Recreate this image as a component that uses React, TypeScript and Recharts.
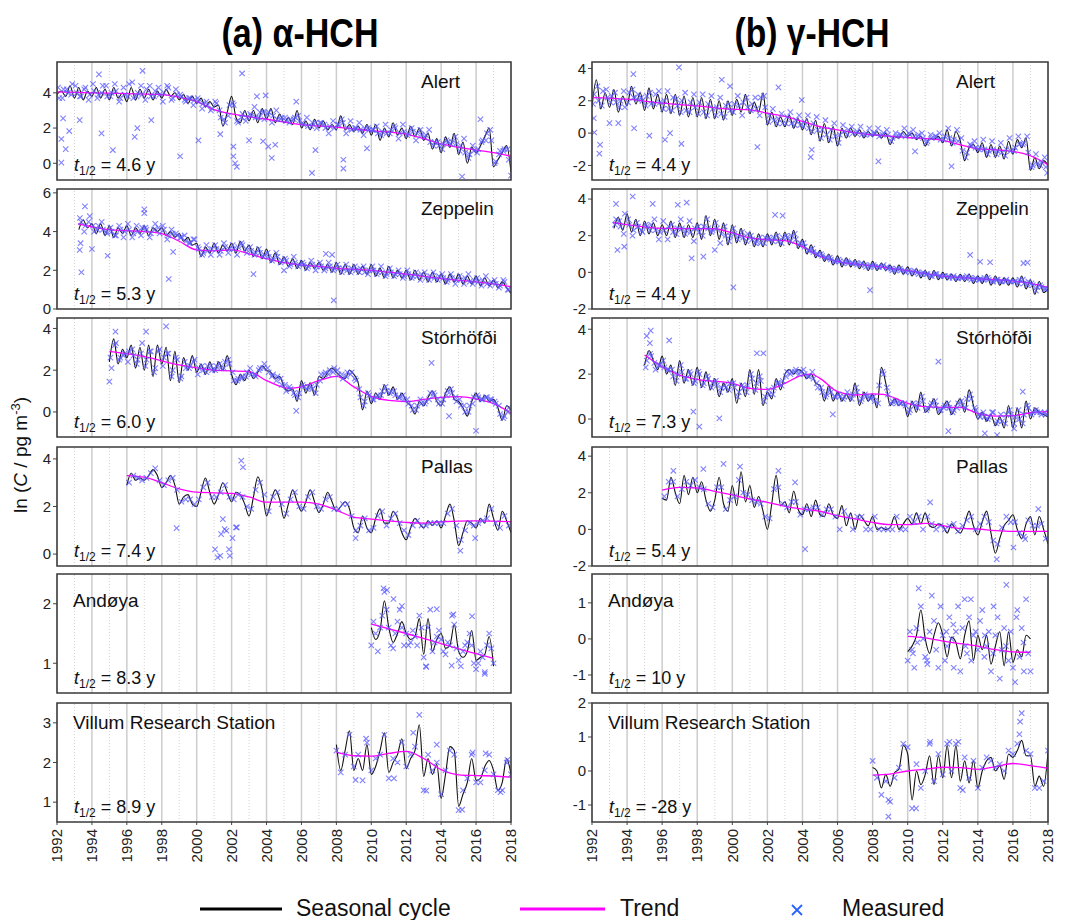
import React from "react";
import { ComposedChart, Line, Scatter, XAxis, YAxis, ReferenceLine } from "recharts";

// ---- axis values ----
const gridYears = [1992, 1993, 1994, 1995, 1996, 1997, 1998, 1999, 2000, 2001, 2002, 2003, 2004, 2005, 2006, 2007, 2008, 2009, 2010, 2011, 2012, 2013, 2014, 2015, 2016, 2017, 2018];
const labelYears = [1992, 1994, 1996, 1998, 2000, 2002, 2004, 2006, 2008, 2010, 2012, 2014, 2016, 2018];
const oddYears = [1993, 1995, 1997, 1999, 2001, 2003, 2005, 2007, 2009, 2011, 2013, 2015, 2017];

// ---- (a) alpha-HCH ----
// Alert
const alertA_season = [3.9, 4.1, 3.8, 4.4, 3.7, 4.3, 3.6, 4.1, 3.8, 4.3, 3.7, 4.2, 3.6, 4.3, 3.7, 4.0, 3.5, 4.3, 3.6, 4.2, 3.7, 4.2, 3.6, 4.1, 3.7, 4.2, 3.8, 4.0, 3.6, 3.9, 3.4, 3.8, 3.4, 3.7, 3.2, 3.5, 3.2, 3.3, 2.1, 2.9, 3.8, 2.6, 2.3, 3.0, 2.4, 3.0, 2.3, 3.1, 2.5, 3.1, 2.3, 2.8, 2.3, 2.6, 2.2, 3.0, 2.0, 2.4, 1.9, 2.5, 2.0, 2.4, 1.9, 2.2, 1.9, 2.7, 1.9, 2.2, 1.8, 2.1, 1.7, 2.2, 1.6, 2.2, 1.3, 2.0, 1.5, 2.3, 1.6, 2.0, 1.4, 2.1, 1.5, 2.0, 1.3, 1.7, 0.8, 1.4, 0.6, 1.5, 0.9, 1.7, 0.5, 1.2, 0.0, 0.9, 0.6, 1.0, 1.5, 2.0, -0.2, 0.2, 0.6, 1.0, -0.5];
const alertA_trend = [[1992, 4.05], [1994, 4.0], [1996, 3.95], [1998, 3.9], [1999, 3.75], [2000, 3.5], [2001, 3.05], [2002, 2.8], [2004, 2.5], [2006, 2.2], [2008, 2.05], [2010, 1.85], [2012, 1.65], [2013, 1.4], [2014, 1.1], [2015, 0.9], [2016, 0.75], [2017, 0.6], [2018, 0.4]];
const alertA_meas = [3.7, 4.2, 4.0, 4.5, 4.0, 3.8, 4.3, 3.9, 4.1, 3.9, 4.4, 3.8, 4.0, 4.1, 3.7, 3.9, 4.5, 3.7, 4.0, 3.9, 4.2, 3.8, 4.1, 3.9, 4.0, 4.3, 3.7, 3.9, 3.8, 3.5, 3.7, 3.6, 3.5, 3.4, 3.3, 3.1, 3.4, 2.6, 2.3, 3.3, 3.3, 2.3, 2.8, 2.6, 2.7, 2.6, 2.9, 2.5, 2.9, 2.7, 2.5, 2.6, 2.4, 2.5, 2.6, 2.4, 2.2, 2.1, 2.3, 2.0, 2.3, 2.0, 2.1, 2.0, 2.2, 2.3, 2.0, 1.9, 2.0, 1.9, 2.0, 1.9, 1.9, 1.7, 1.8, 1.7, 1.9, 2.0, 1.7, 1.8, 1.7, 1.8, 1.7, 1.6, 1.6, 1.2, 1.2, 1.0, 1.1, 1.2, 1.2, 1.1, 1.0, 0.6, 0.5, 0.7, 0.8, 1.3, 1.7, 1.3, 0.1, 0.7, 0.8, 0.2];
const alertA_meas2 = [4.3, 3.7, 4.2, 3.9, 4.4, 3.8, 4.2, 3.6, 4.5, 3.7, 4.0, 4.4, 3.8, 4.5, 3.5, 4.3, 3.8, 4.6, 3.8, 4.4, 3.6, 4.4, 3.8, 4.3, 3.5, 4.4, 3.6, 4.2, 3.9, 3.6, 3.7, 3.3, 3.7, 3.1, 3.5, 3.0, 3.5, 3.0, 2.5, 2.7, 3.4, 2.4, 2.6, 2.4, 2.8, 3.2, 2.6, 2.9, 2.8, 2.3, 3.0, 2.5, 2.6, 2.3, 2.5, 2.7, 2.3, 2.6, 2.1, 2.3, 2.3, 2.2, 1.7, 2.4, 2.2, 2.5, 1.7, 2.4, 2.0, 2.3, 1.6, 2.0, 1.9, 2.1, 1.6, 2.2, 1.7, 2.1, 1.4, 2.2, 1.6, 2.0, 1.3, 1.9, 1.5, 1.9, 1.0, 1.2, 0.8, 1.3, 1.1, 1.5, 0.7, 1.4, 0.3, 1.0, 0.6, 1.2, 1.3, 1.9, 0.0, 0.5, 0.7, 0.8];
const alertA_out = [[1992.25, 1.38], [1992.25, 0.04], [1992.35, 2.55], [1992.5, 0.8], [1992.7, 1.83], [1993.3, 2.45], [1994.4, 5.05], [1994.55, 1.7], [1995.2, 0.75], [1996.45, 1.5], [1996.6, 2.0], [1996.9, 5.25], [1997.4, 2.45], [1999.05, 0.4], [2000.1, 1.3], [2001.35, 1.65], [2002.1, 0.95], [2002.1, 0.4], [2002.2, 0.0], [2002.3, -0.2], [2002.6, 5.1], [2003.0, 1.3], [2003.45, 3.8], [2003.95, 3.85], [2003.8, 1.25], [2004.1, 0.95], [2004.3, 0.3], [2004.5, 1.05], [2005.7, 3.5], [2006.8, 0.75], [2008.4, 0.2], [2008.4, -0.3], [2006.6, -0.55], [2009.75, 0.85], [2015.2, -0.75], [2018.0, -0.7], [2016.25, 2.5]];

// Zeppelin
const zeppA_season = [4.1, 4.6, 4.2, 4.4, 3.9, 4.4, 3.8, 4.3, 3.7, 4.2, 3.9, 4.3, 3.8, 4.2, 3.9, 4.3, 3.8, 4.2, 4.0, 4.2, 3.8, 4.0, 3.7, 3.9, 3.5, 3.7, 3.3, 3.4, 2.7, 3.2, 2.9, 3.4, 2.9, 3.3, 3.0, 3.4, 2.9, 3.5, 3.0, 3.3, 2.7, 3.2, 2.6, 3.1, 2.4, 2.9, 2.3, 2.7, 2.2, 2.6, 2.1, 2.5, 2.0, 2.4, 2.1, 2.4, 2.0, 2.3, 1.9, 2.4, 1.8, 2.3, 1.8, 2.3, 1.8, 2.2, 1.8, 2.3, 1.7, 2.1, 1.6, 2.2, 1.6, 2.0, 1.6, 2.0, 1.5, 2.0, 1.5, 1.9, 1.4, 1.9, 1.4, 1.8, 1.3, 1.8, 1.4, 1.8, 1.3, 1.7, 1.3, 1.7, 1.2, 1.6, 1.2, 1.5, 1.1, 1.4, 1.1, 0.8];
const zeppA_trend = [[1993.2, 4.4], [1994, 4.25], [1995, 4.1], [1996, 4.05], [1997, 4.0], [1998, 3.9], [1999, 3.5], [2000, 3.05], [2001, 3.0], [2002, 3.05], [2003, 2.85], [2004, 2.6], [2005, 2.4], [2006, 2.27], [2007, 2.2], [2008, 2.1], [2010, 2.0], [2012, 1.8], [2014, 1.57], [2016, 1.4], [2017, 1.3], [2018, 1.15]];
const zeppA_meas = [4.5, 4.3, 4.8, 4.0, 4.3, 4.1, 3.9, 4.0, 3.8, 4.1, 4.0, 4.1, 3.9, 4.0, 4.2, 4.1, 3.9, 4.4, 3.9, 4.1, 3.8, 3.9, 3.8, 3.7, 3.5, 3.4, 3.6, 3.1, 2.9, 3.0, 3.1, 3.1, 3.0, 3.2, 3.1, 3.1, 3.2, 3.3, 2.9, 3.0, 2.9, 2.9, 2.8, 2.7, 2.6, 2.7, 2.5, 2.5, 2.3, 2.4, 2.3, 2.3, 2.2, 2.3, 2.2, 2.2, 2.1, 2.2, 2.1, 2.1, 2.1, 2.0, 2.1, 2.0, 2.1, 1.9, 2.0, 2.0, 1.9, 1.9, 1.8, 1.9, 1.8, 1.8, 1.7, 1.8, 1.7, 1.7, 1.8, 1.6, 1.7, 1.6, 1.7, 1.6, 1.5, 1.6, 1.5, 1.5, 1.6, 1.4, 1.5, 1.4, 1.5, 1.3, 1.4, 1.3, 1.2, 1.4, 1.0];
const zeppA_meas2 = [4.7, 4.0, 4.5, 4.3, 4.1, 4.5, 4.0, 4.2, 3.8, 4.3, 3.7, 4.4, 3.7, 4.3, 3.8, 4.2, 3.7, 4.1, 4.2, 4.3, 3.6, 4.1, 3.9, 3.7, 3.8, 3.4, 3.6, 3.2, 2.8, 3.3, 2.8, 3.3, 2.8, 3.4, 2.9, 3.3, 2.8, 3.4, 3.1, 3.2, 2.8, 3.1, 2.7, 2.9, 2.5, 2.9, 2.4, 2.6, 2.2, 2.7, 2.2, 2.4, 2.1, 2.5, 2.0, 2.4, 2.0, 2.4, 2.0, 2.3, 1.9, 2.3, 1.9, 2.2, 1.9, 2.2, 1.8, 2.2, 1.8, 2.2, 1.7, 2.1, 1.7, 2.0, 1.6, 2.0, 1.6, 1.9, 1.5, 1.9, 1.5, 1.9, 1.5, 1.8, 1.4, 1.8, 1.3, 1.7, 1.3, 1.8, 1.3, 1.6, 1.2, 1.7, 1.2, 1.5, 1.1, 1.5, 1.0];
const zeppA_out = [[1993.3, 3.05], [1993.35, 3.4], [1993.4, 1.9], [1993.6, 5.3], [1994.0, 3.1], [1994.9, 2.75], [1997.0, 5.15], [1997.0, 4.95], [1998.4, 1.55], [1998.65, 2.95], [2003.25, 1.8], [2005.0, 2.0], [2007.85, 0.45], [2007.4, 2.85], [2007.75, 2.8]];

// Storhofdi
const storA_season = [2.4, 3.5, 2.3, 3.0, 2.6, 3.2, 2.1, 3.1, 2.0, 3.2, 1.7, 3.2, 2.3, 3.1, 1.5, 2.9, 1.4, 2.6, 2.0, 2.7, 1.9, 2.3, 1.8, 2.4, 1.9, 2.4, 2.0, 2.7, 1.8, 1.3, 1.8, 1.5, 2.0, 1.6, 1.9, 2.2, 2.0, 1.9, 1.6, 1.7, 1.2, 1.0, 1.1, 0.5, 1.5, 0.9, 1.4, 0.8, 1.7, 1.6, 1.9, 2.1, 1.9, 1.7, 1.6, 2.0, 1.8, 1.4, 0.1, 1.0, 0.4, 0.9, 0.6, 1.3, 0.8, 1.2, 0.6, 0.9, 0.5, 0.3, -0.1, 0.5, 0.3, 0.7, 1.0, 0.5, 0.3, 0.9, 1.2, 0.6, 0.5, 0.2, -0.2, 0.5, 0.9, 0.5, 0.8, 0.5, 0.6, 0.2, -0.4, 0.3, 0.1];
const storA_trend = [[1995, 2.9], [1997, 2.65], [1999, 2.25], [2001, 2.0], [2003, 1.93], [2004, 1.5], [2005.3, 1.13], [2006, 1.2], [2007, 1.5], [2008, 1.7], [2009, 1.2], [2010, 0.75], [2011, 0.55], [2012, 0.5], [2013, 0.6], [2014, 0.7], [2015, 0.73], [2016, 0.62], [2017, 0.4], [2018, -0.05]];
const storA_meas = [2.1, 3.3, 2.6, 2.8, 2.9, 2.7, 2.5, 3.3, 2.5, 2.9, 2.1, 3.0, 2.6, 2.8, 2.0, 2.5, 1.7, 2.1, 2.2, 2.5, 2.1, 2.0, 2.2, 2.0, 2.2, 2.1, 2.4, 2.3, 1.5, 1.6, 1.7, 1.9, 1.8, 1.7, 2.1, 2.3, 1.9, 1.8, 1.7, 1.3, 1.0, 1.1, 0.8, 0.9, 1.2, 1.2, 1.1, 1.3, 1.8, 1.9, 2.0, 2.1, 1.8, 1.6, 1.9, 1.9, 1.5, 0.7, 0.5, 0.8, 0.6, 0.8, 1.0, 1.0, 1.0, 0.8, 0.7, 0.6, 0.4, 0.1, 0.3, 0.4, 0.5, 0.9, 0.8, 0.4, 0.6, 1.0, 0.9, 0.5, 0.3, 0.0, 0.3, 0.7, 0.7, 0.6, 0.7, 0.6, 0.4, -0.1, -0.2, 0.2];
const storA_meas2 = [2.6, 3.2, 2.5, 2.7, 2.4, 3.0, 2.3, 2.8, 2.2, 2.9, 1.9, 2.9, 2.2, 2.8, 1.7, 2.6, 1.6, 2.4, 2.1, 2.4, 1.8, 2.2, 1.9, 2.2, 2.0, 2.3, 2.1, 2.5, 1.9, 1.5, 1.6, 1.7, 2.1, 1.8, 2.0, 2.1, 2.1, 1.7, 1.5, 1.6, 1.3, 1.2, 0.9, 0.7, 1.3, 1.1, 1.2, 0.9, 1.5, 1.8, 1.8, 1.9, 2.0, 1.8, 1.7, 1.8, 1.6, 1.1, 0.3, 0.9, 0.6, 0.7, 0.8, 1.2, 0.9, 1.0, 0.7, 0.8, 0.6, 0.3, 0.1, 0.6, 0.4, 0.6, 0.9, 0.6, 0.4, 0.8, 1.1, 0.7, 0.6, 0.3, 0.0, 0.4, 0.8, 0.6, 0.7, 0.6, 0.5, 0.3, -0.3, 0.0];
const storA_out = [[1995.0, 1.45], [1995.35, 3.85], [1997.1, 3.85], [1998.25, 4.1], [2005.7, 0.05], [2013.45, 2.35], [2014.45, -0.2], [2016.0, -0.9]];

// Pallas
const pallA_season = [2.9, 3.4, 3.1, 3.2, 3.1, 3.3, 3.55, 3.3, 2.8, 3.0, 3.3, 2.9, 2.1, 2.4, 2.5, 2.1, 2.0, 2.6, 3.2, 2.6, 2.1, 2.5, 3.0, 2.6, 2.2, 2.6, 2.5, 2.1, 1.6, 2.4, 3.25, 2.7, 1.6, 2.2, 2.7, 2.3, 1.5, 2.1, 2.7, 2.2, 1.8, 2.2, 2.7, 2.2, 1.75, 2.1, 2.6, 2.2, 1.8, 2.0, 2.2, 1.9, 1.1, 0.9, 1.6, 1.1, 0.9, 1.5, 1.9, 1.3, 1.3, 1.8, 1.5, 0.9, 0.6, 1.1, 1.5, 1.3, 1.1, 1.4, 1.2, 1.4, 1.1, 1.6, 2.1, 1.4, 0.35, 0.9, 1.4, 1.3, 1.1, 1.5, 1.3, 2.1, 1.5, 1.0, 1.8, 1.4, 0.9];
const pallA_trend = [[1996, 3.3], [1997, 3.23], [1998, 3.0], [1999, 2.74], [2000, 2.6], [2002, 2.55], [2003, 2.4], [2004, 2.18], [2006, 2.18], [2007, 2.1], [2008, 1.85], [2009, 1.55], [2010, 1.47], [2012, 1.33], [2013, 1.3], [2014, 1.36], [2016, 1.4], [2018, 1.36]];
const pallA_meas = [3.0, 3.3, 3.2, 3.1, 3.2, 3.4, 3.6, 3.1, 2.9, 3.1, 3.2, 2.7, 2.2, 2.3, 2.3, 2.1, 2.3, 2.8, 3.0, 2.4, 2.4, 2.6, 2.9, 2.4, 2.3, 2.5, 2.4, 2.0, 1.9, 2.7, 3.0, 2.5, 1.8, 2.4, 2.6, 2.1, 1.7, 2.3, 2.6, 2.0, 1.9, 2.4, 2.6, 2.0, 1.9, 2.3, 2.4, 1.9, 1.9, 2.1, 2.1, 1.6, 1.0, 1.2, 1.5, 1.0, 1.1, 1.6, 1.8, 1.2, 1.5, 1.7, 1.3, 1.0, 0.8, 1.2, 1.4, 1.2, 1.2, 1.3, 1.3, 1.3, 1.3, 1.7, 1.9, 1.2, 0.6, 1.0, 1.3, 1.2, 1.3, 1.4, 1.5, 1.9, 1.3, 1.1, 1.6, 1.2];
const pallA_out = [[2001.05, 0.2], [2001.2, -0.14], [2001.35, -0.07], [2001.4, 0.84], [2001.5, 1.47], [2001.6, 1.05], [2001.7, 0.98], [2001.85, 0.2], [2001.9, -0.07], [2002.05, 0.67], [2002.25, 1.12], [2002.3, 1.12], [2002.55, 3.93], [2002.65, 3.65], [1998.85, 1.09], [2015.1, 0.14], [2015.95, 0.67], [2009.1, 0.67]];

// Andoya
const andA_season = [1.6, 1.4, 1.55, 2.05, 1.6, 1.35, 1.5, 1.7, 1.5, 1.4, 1.45, 1.75, 1.15, 1.75, 1.2, 1.4, 1.5, 1.25, 1.3, 1.65, 1.2, 1.1, 1.2, 1.55, 1.05, 1.1, 1.15, 1.45, 0.95];
const andA_trend = [[2010, 1.66], [2012, 1.5], [2014, 1.33], [2016, 1.16], [2017, 1.08]];
const andA_meas = [1.3, 1.7, 1.5, 1.2, 1.6, 1.8, 2.2, 1.9, 1.6, 1.3, 1.25, 1.5, 1.7, 1.9, 1.6, 1.3, 1.5, 1.3, 1.35, 1.55, 1.45, 1.3, 1.8, 1.6, 1.1, 0.95, 1.6, 1.9, 1.2, 1.35, 1.45, 1.55, 1.4, 1.2, 1.15, 1.35, 1.3, 1.8, 1.65, 1.25, 1.05, 0.95, 1.2, 1.3, 1.35, 1.5, 1.3, 1.0, 0.9, 1.0, 1.2, 1.1, 0.85, 1.3, 1.5, 1.25, 1.0];
const andA_out = [[2010.7, 2.26], [2010.9, 2.23], [2011.27, 2.08], [2011.75, 1.96], [2013.75, 1.91], [2014.7, 1.82], [2015.77, 1.79], [2013.15, 0.94], [2014.6, 0.96], [2016.5, 0.82]];

// Villum
const vilA_season = [2.45, 1.8, 2.3, 2.8, 1.8, 2.1, 1.8, 2.45, 1.7, 1.9, 2.3, 2.75, 1.75, 2.0, 2.2, 2.6, 1.85, 2.1, 2.3, 2.95, 1.65, 2.1, 1.7, 1.95, 1.1, 1.7, 2.4, 2.3, 0.9, 1.2, 1.5, 2.1, 1.55, 1.6, 1.9, 2.05, 1.8, 1.3, 1.5, 2.1, 1.7];
const vilA_trend = [[2008, 2.26], [2009, 2.17], [2010, 2.16], [2011, 2.23], [2012, 2.28], [2013, 2.1], [2014, 1.82], [2015, 1.69], [2016, 1.67], [2017, 1.66], [2018, 1.63]];
const vilA_meas = [2.3, 1.75, 2.2, 2.7, 1.9, 2.2, 1.55, 2.5, 1.8, 2.1, 2.2, 2.7, 1.6, 2.1, 2.0, 2.5, 1.9, 2.2, 2.4, 3.2, 1.3, 2.2, 1.8, 2.0, 1.2, 1.8, 2.3, 2.2, 0.8, 1.3, 1.6, 2.2, 1.5, 1.5, 1.8, 2.2, 1.7, 1.3, 1.3, 2.0, 1.7];
const vilA_out = [[2009.1, 1.56], [2009.7, 2.6], [2011.3, 1.6], [2012.4, 2.75], [2013.15, 1.29], [2013.75, 2.45], [2015.2, 0.81], [2015.8, 2.25], [2016.55, 2.23], [2017.4, 1.25], [2017.8, 2.07]];

// ---- (b) gamma-HCH ----
// Alert
const alertG_season = [1.6, 3.3, 1.5, 2.5, 1.6, 2.7, 1.3, 2.3, 1.7, 2.9, 1.8, 2.5, 1.4, 2.8, 1.5, 2.4, 1.3, 2.4, 1.2, 2.4, 1.1, 2.3, 1.0, 2.2, 1.0, 2.2, 0.9, 2.1, 0.9, 2.0, 0.8, 2.0, 1.1, 2.1, 1.3, 2.4, 1.2, 1.9, 1.3, 2.5, 0.5, 1.3, 0.4, 1.0, 0.4, 1.1, 0.3, 0.9, 0.2, 0.9, -0.1, 0.8, -0.5, 0.6, -0.6, 0.4, -0.8, 0.3, -0.3, 0.3, -0.2, 0.2, -0.3, 0.1, -0.2, 0.1, -0.3, 0.0, -0.7, -0.2, -0.3, 0.1, -0.2, 0.0, -0.4, -0.2, -0.8, -0.3, -0.4, -0.2, -0.6, 0.2, -0.8, 0.1, -0.5, -1.7, -0.9, -0.7, -1.2, -0.6, -1.5, -0.7, -1.5, -0.8, -1.6, -0.5, -1.3, -0.4, -0.9, -0.3, -2.3, -1.5, -2.2, -1.7, -2.0];
const alertG_trend = [[1992, 2.2], [1994, 2.1], [1996, 1.85], [1998, 1.68], [2000, 1.48], [2001, 1.44], [2002, 1.23], [2003, 1.03], [2004, 0.72], [2005, 0.4], [2006, 0.2], [2007, 0.02], [2008, -0.1], [2010, -0.27], [2012, -0.45], [2013, -0.72], [2014, -0.97], [2015, -1.03], [2016, -1.13], [2017, -1.4], [2018, -1.95]];
const alertG_meas = [2.4, 2.0, 2.6, 2.2, 2.3, 1.9, 2.0, 1.6, 2.5, 2.2, 2.4, 2.0, 2.3, 1.8, 2.4, 1.9, 2.0, 1.5, 2.2, 1.7, 2.0, 1.4, 1.9, 1.6, 1.9, 1.3, 1.8, 1.5, 1.6, 1.2, 1.7, 1.4, 1.8, 1.7, 1.9, 1.6, 1.8, 1.5, 2.2, 1.6, 1.1, 0.8, 0.9, 0.6, 1.0, 0.6, 0.8, 0.5, 0.7, 0.3, 0.6, 0.2, 0.2, -0.1, 0.2, -0.2, -0.1, 0.1, 0.2, 0.0, 0.1, -0.1, 0.0, -0.1, 0.0, -0.2, 0.0, -0.1, -0.3, -0.2, -0.1, -0.2, -0.1, -0.2, -0.1, -0.3, -0.5, -0.3, -0.2, -0.4, -0.2, -0.3, -0.4, -0.5, -1.1, -1.2, -0.8, -0.9, -0.9, -1.0, -1.1, -1.0, -1.1, -1.2, -1.0, -1.1, -0.9, -0.7, -0.6, -1.2, -2.0, -1.9, -1.8, -2.1];
const alertG_meas2 = [1.8, 2.9, 1.7, 2.7, 1.9, 2.5, 1.6, 2.6, 1.9, 2.7, 2.1, 2.2, 1.7, 2.5, 1.8, 2.6, 1.5, 2.6, 1.4, 2.1, 1.3, 2.5, 1.3, 2.4, 1.2, 2.4, 1.1, 2.3, 1.1, 2.2, 1.0, 1.8, 1.3, 2.3, 1.1, 2.2, 1.4, 2.2, 1.1, 2.3, 0.7, 1.5, 0.6, 1.2, 0.6, 1.3, 0.5, 1.1, 0.4, 1.1, 0.1, 1.0, -0.3, 0.8, -0.4, 0.6, -0.6, 0.5, -0.1, 0.4, 0.0, 0.4, -0.1, 0.3, 0.0, 0.3, -0.1, 0.2, -0.5, 0.0, -0.1, 0.3, 0.0, 0.2, -0.2, 0.0, -0.6, -0.1, -0.2, 0.0, -0.4, 0.3, -0.6, 0.2, -0.3, -1.5, -0.7, -0.5, -1.0, -0.4, -1.3, -0.5, -1.3, -0.6, -1.4, -0.3, -1.1, -0.2, -0.7, -0.2, -2.1, -1.3, -2.0, -1.5];
const alertG_out = [[1992.1, 0.92], [1992.13, 0.04], [1992.46, -0.72], [1992.42, -1.27], [1993.0, 0.62], [1993.5, 0.62], [1994.36, 3.65], [1994.4, 0.3], [1995.27, -0.16], [1996.16, -0.41], [1996.45, 0.0], [1996.96, 4.07], [1997.1, -0.66], [1999.4, 3.3], [1999.87, 2.9], [2001.43, -0.86], [2002.63, 2.83], [2003.96, 2.05], [2004.47, -1.48], [2004.53, -1.03], [2008.33, -1.75], [2010.42, -1.13], [2012.5, -2.05], [2017.95, -2.46]];

// Zeppelin
const zeppG_season = [2.4, 3.0, 2.3, 3.2, 2.2, 2.9, 2.0, 2.8, 2.1, 2.7, 2.0, 2.6, 2.0, 2.8, 1.9, 2.7, 1.9, 2.6, 1.9, 2.7, 1.8, 3.1, 2.0, 2.9, 1.8, 2.7, 1.5, 2.6, 1.6, 2.4, 1.5, 2.2, 1.4, 2.1, 1.4, 2.1, 1.5, 2.2, 1.4, 2.2, 1.5, 2.3, 1.3, 1.8, 1.0, 1.5, 0.8, 1.2, 0.6, 1.0, 0.4, 0.9, 0.3, 0.8, 0.3, 0.7, 0.2, 0.6, 0.1, 0.6, 0.1, 0.5, 0.1, 0.4, -0.1, 0.4, -0.1, 0.3, -0.2, 0.2, -0.3, 0.1, -0.4, 0.1, -0.4, 0.0, -0.4, -0.1, -0.5, -0.1, -0.5, -0.1, -0.6, -0.2, -0.6, -0.1, -0.7, -0.2, -0.7, -0.3, -0.7, -0.3, -0.8, -0.2, -0.9, -0.4, -1.2, -0.5, -1.1, -0.9];
const zeppG_trend = [[1993.2, 2.72], [1994, 2.6], [1996, 2.4], [1999, 2.38], [2000, 2.15], [2001, 1.88], [2002, 1.78], [2003, 1.73], [2004, 1.4], [2005, 0.88], [2006, 0.6], [2008, 0.35], [2010, 0.09], [2012, -0.2], [2014, -0.35], [2016, -0.47], [2017, -0.6], [2018, -0.82]];
const zeppG_meas = [2.9, 2.5, 3.2, 2.6, 2.3, 2.5, 2.2, 2.5, 2.6, 2.3, 2.2, 2.3, 2.5, 2.2, 2.4, 2.4, 2.3, 2.2, 2.4, 2.2, 2.5, 2.4, 2.3, 2.4, 2.1, 2.0, 2.0, 2.1, 2.0, 1.9, 2.1, 1.8, 1.7, 1.6, 1.9, 1.8, 1.9, 1.7, 1.9, 1.9, 2.0, 1.8, 1.6, 1.4, 1.2, 1.1, 1.0, 0.9, 0.8, 0.7, 0.6, 0.6, 0.6, 0.5, 0.5, 0.4, 0.5, 0.3, 0.4, 0.3, 0.3, 0.4, 0.2, 0.1, 0.2, 0.1, 0.0, 0.0, 0.1, -0.1, 0.0, -0.1, -0.2, -0.1, -0.2, -0.2, -0.3, -0.2, -0.3, -0.3, -0.2, -0.4, -0.3, -0.4, -0.3, -0.4, -0.5, -0.4, -0.5, -0.4, -0.5, -0.5, -0.4, -0.6, -0.5, -0.7, -0.8, -0.8, -0.9];
const zeppG_meas2 = [2.6, 2.8, 2.1, 2.9, 2.0, 2.7, 2.3, 2.6, 2.3, 2.9, 1.8, 2.8, 1.8, 2.6, 2.1, 2.9, 2.1, 2.8, 1.7, 2.5, 2.0, 2.9, 2.2, 2.7, 1.6, 2.5, 1.7, 2.4, 1.8, 2.2, 1.7, 2.0, 1.6, 1.9, 1.6, 1.9, 1.7, 2.0, 1.6, 2.0, 1.7, 2.1, 1.5, 1.6, 1.2, 1.3, 1.0, 1.0, 0.8, 0.8, 0.6, 0.7, 0.5, 0.6, 0.5, 0.5, 0.4, 0.4, 0.3, 0.4, 0.3, 0.3, 0.3, 0.2, 0.1, 0.2, 0.1, 0.1, 0.0, 0.0, -0.1, -0.1, -0.2, -0.1, -0.2, -0.2, -0.2, -0.3, -0.3, -0.3, -0.3, -0.3, -0.4, -0.4, -0.4, -0.3, -0.5, -0.4, -0.5, -0.5, -0.5, -0.5, -0.6, -0.4, -0.7, -0.6, -1.0, -0.7, -0.9];
const zeppG_out = [[1993.37, 3.74], [1993.45, 1.22], [1993.84, 1.4], [1994.32, 4.14], [1995.46, 3.74], [1996.89, 3.69], [1997.4, 3.81], [1997.68, 0.77], [1998.35, 0.86], [1999.0, 1.22], [2000.06, -0.82], [2002.44, 3.14], [2002.87, 3.1], [2007.85, -0.97], [2013.56, 0.95], [2014.13, 0.58], [2014.7, 0.55], [2016.6, 0.5], [2016.83, 0.53]];

// Storhofdi
const storG_season = [2.4, 3.05, 2.6, 2.2, 2.8, 2.0, 2.4, 1.5, 2.6, 1.6, 2.2, 1.5, 2.3, 1.4, 2.1, 1.3, 1.8, 1.0, 1.6, 1.2, 1.8, 0.7, 1.6, 1.0, 2.2, 1.1, 2.2, 0.6, 1.2, 0.9, 1.8, 1.3, 2.0, 2.2, 2.0, 2.2, 2.1, 1.8, 2.0, 1.6, 1.5, 0.8, 1.5, 0.8, 1.2, 0.8, 1.1, 0.8, 1.6, 0.6, 1.2, 0.8, 1.1, 0.5, 2.3, 1.6, 0.6, 0.9, 0.6, 0.8, 0.1, 0.8, 0.3, 1.2, 0.3, 0.5, 0.9, 0.2, 0.5, 0.8, 0.2, 0.6, 0.9, 0.3, 1.3, 0.6, 0.0, 0.3, -0.1, 0.2, -0.3, 0.1, -0.4, 0.6, -0.4, 0.5, -0.4, 0.8, 0.0, 0.5, 0.3, 0.2, 0.1];
const storG_trend = [[1995, 2.85], [1996, 2.33], [1997, 1.96], [1998, 1.77], [2000, 1.59], [2001, 1.37], [2002, 1.32], [2003, 1.59], [2004, 1.96], [2004.5, 2.0], [2005, 1.81], [2006, 1.22], [2007, 1.07], [2008, 1.12], [2008.6, 1.1], [2010, 0.7], [2011, 0.55], [2012, 0.52], [2013, 0.52], [2014, 0.25], [2015, 0.13], [2016, 0.15], [2017, 0.28], [2018, 0.33]];
const storG_meas = [2.6, 2.8, 2.2, 2.4, 2.3, 2.2, 1.9, 2.0, 2.1, 1.8, 2.0, 1.7, 2.0, 1.6, 1.8, 1.6, 1.5, 1.4, 1.4, 1.6, 1.4, 1.2, 1.4, 1.5, 1.8, 1.6, 1.7, 1.0, 1.1, 1.4, 1.6, 1.7, 2.1, 2.1, 2.2, 2.1, 2.0, 1.9, 1.8, 1.4, 1.2, 1.1, 1.2, 1.0, 1.0, 1.0, 1.0, 1.1, 1.2, 0.9, 1.0, 0.9, 0.8, 1.5, 2.0, 1.1, 0.8, 0.7, 0.7, 0.6, 0.4, 0.6, 0.7, 0.8, 0.5, 0.7, 0.6, 0.4, 0.6, 0.5, 0.4, 0.7, 0.6, 0.9, 0.9, 0.4, 0.1, 0.1, 0.1, 0.3, -0.1, -0.1, 0.2, 0.2, 0.1, 0.0, 0.2, 0.5, 0.3, 0.3, 0.2, 0.2];
const storG_meas2 = [2.3, 2.9, 2.5, 2.4, 2.6, 2.2, 2.2, 1.7, 2.4, 1.8, 2.1, 1.6, 2.1, 1.5, 1.9, 1.4, 1.7, 1.2, 1.5, 1.3, 1.6, 1.0, 1.5, 1.2, 2.0, 1.3, 1.9, 0.8, 1.3, 1.1, 1.6, 1.5, 1.9, 2.0, 2.1, 2.0, 2.2, 1.9, 2.1, 1.6, 1.4, 1.0, 1.3, 1.0, 1.1, 0.9, 1.2, 0.9, 1.4, 0.8, 1.1, 1.0, 1.0, 0.7, 2.1, 1.4, 0.7, 0.8, 0.7, 0.7, 0.3, 0.7, 0.5, 1.0, 0.4, 0.6, 0.8, 0.4, 0.5, 0.7, 0.3, 0.5, 0.8, 0.5, 1.1, 0.5, 0.2, 0.3, 0.0, 0.3, -0.2, 0.2, -0.2, 0.4, -0.2, 0.4, -0.2, 0.6, 0.2, 0.4, 0.3, 0.3];
const storG_out = [[1995.12, 3.7], [1995.35, 3.94], [1995.3, 3.38], [1996.4, 3.5], [1997.78, 0.33], [1998.12, -0.34], [1999.26, 0.03], [2001.4, 2.93], [2001.77, 2.93], [2005.73, 0.21], [2011.75, 2.56], [2012.32, -0.54], [2014.4, -0.64], [2015.1, -0.71], [2016.07, -0.42], [2016.56, 1.22]];

// Pallas
const pallG_season = [1.7, 1.6, 2.85, 2.0, 1.4, 2.95, 1.9, 2.85, 2.0, 2.6, 1.6, 1.0, 1.6, 2.85, 1.4, 1.0, 2.4, 1.3, 3.15, 1.5, 2.4, 1.2, 1.8, 1.0, 0.0, 1.4, 2.95, 1.3, 1.5, 0.9, 2.1, 1.1, 0.8, 1.4, 0.7, 1.6, 0.8, 0.7, 1.4, 0.8, 0.6, 1.3, 0.2, 0.9, 0.0, 0.8, 0.5, 0.2, 0.7, 0.0, 0.1, 0.0, 0.1, 0.7, 0.0, 0.3, 0.6, 0.3, 0.9, 0.3, 0.9, 0.2, 0.1, 0.3, 0.2, -0.2, 0.3, 0.0, -0.2, 0.3, 1.0, 0.2, -0.3, 0.4, 1.0, -0.2, -1.3, -0.5, 0.2, 0.5, 0.8, 0.0, -0.5, 0.3, 0.7, -0.3, 0.7, 0.0, -0.8];
const pallG_trend = [[1996, 2.15], [1997, 2.3], [1998, 2.26], [1999, 2.08], [2000, 1.88], [2001, 1.66], [2002, 1.48], [2003, 1.26], [2004, 1.11], [2005, 0.99], [2006, 0.75], [2007, 0.57], [2008, 0.38], [2009, 0.26], [2010, 0.26], [2011, 0.33], [2012, 0.2], [2013, 0.05], [2014, 0.02], [2015, -0.07], [2016, -0.11], [2018, -0.11]];
const pallG_meas = [1.8, 2.6, 2.6, 1.8, 2.2, 2.6, 2.4, 2.7, 2.3, 2.2, 1.4, 1.2, 2.3, 2.3, 1.1, 1.6, 1.8, 2.7, 2.0, 1.9, 1.6, 1.5, 1.4, 0.7, 0.6, 2.2, 2.3, 1.4, 1.2, 1.5, 1.5, 0.8, 1.1, 1.1, 1.2, 1.2, 0.8, 1.1, 1.1, 0.7, 0.0, 1.0, 0.7, 0.0, 0.7, 0.7, 0.0, 0.0, 0.7, 0.0, 0.0, 0.0, 0.0, 0.7, 0.0, 0.0, 0.7, 0.4, 0.7, 0.0, 0.7, 0.3, 0.0, 0.2, 0.0, 0.2, 0.3, -0.1, 0.2, 0.5, 0.7, 0.0, 0.3, 0.7, 0.4, -0.6, -0.8, 0.1, 0.7, 0.4, 0.4, -0.2, -0.4, 0.5, 0.2, 0.2, 0.3, -0.5];
const pallG_out = [[1996.64, 3.2], [1998.35, 3.3], [1999.5, 3.58], [2000.44, 3.43], [2002.63, 3.2], [2003.58, 2.57], [2004.15, -1.08], [2011.28, 1.48], [2015.08, -1.63], [2016.03, -0.99], [2017.45, 1.11], [2016.7, -0.53]];

// Andoya
const andG_season = [-0.35, -0.2, 0.1, 0.8, 0.0, -0.4, 0.1, 0.45, 0.1, -0.5, 0.05, -0.1, -0.55, 0.1, 0.5, -0.6, 0.1, -0.3, 0.1, -0.7, -0.2, 0.2, -0.75, 0.2, -0.65, -0.3, -0.5, 0.1, 0.0];
const andG_trend = [[2010, 0.07], [2011, 0.03], [2012, -0.06], [2013, -0.13], [2014, -0.2], [2015, -0.3], [2016, -0.36], [2017, -0.37]];
const andG_meas = [-0.6, 0.2, -0.3, -0.8, 0.3, 1.4, 0.9, 0.0, -0.5, -0.7, 0.2, 1.2, 0.5, -0.3, -0.8, 0.9, 0.1, -0.6, -0.2, 0.6, 0.0, -0.8, 0.2, 0.9, -0.9, 0.3, 1.1, -0.4, 0.6, -0.6, 0.1, 0.2, -0.3, 0.5, 0.8, -0.5, -0.2, 0.2, -0.9, -0.4, 0.1, 0.6, -1.1, -0.3, 0.3, 1.5, -0.6, 0.2, -0.8, -1.2, 0.8, -0.5, 0.3, -0.9, 1.1, -0.4, -0.9];
const andG_out = [[2010.3, -0.4], [2011.1, -0.6], [2012.6, 0.4], [2013.6, 1.1], [2014.9, 0.9], [2016.2, 0.6], [2010.55, -0.1], [2012.2, 0.2], [2013.3, -0.2], [2014.4, 0.1], [2015.6, -0.2], [2016.6, -0.1]];

// Villum
const vilG_season = [0.1, 0.0, -0.5, -0.1, -0.45, -0.05, 0.05, 0.75, 0.5, -0.85, 0.0, -0.4, -0.1, 0.45, -0.4, 0.45, -0.2, 0.75, -0.2, 0.75, -0.3, 0.3, -0.35, 0.3, -0.5, 0.0, 0.3, 0.4, 0.0, 0.15, -0.25, 0.5, 0.4, 0.6, 0.9, 0.45, 0.45, -0.45, -0.15, -0.45, 0.55];
const vilG_trend = [[2008, -0.12], [2009, -0.09], [2010, 0.0], [2011, 0.05], [2012, 0.11], [2013, 0.1], [2014, 0.05], [2015, 0.13], [2016, 0.22], [2017, 0.16], [2018, 0.08]];
const vilG_meas = [0.3, -0.2, -0.7, -0.3, -0.9, -0.2, 0.1, 0.8, 0.7, -1.1, 0.2, -0.5, 0.0, 0.8, -0.3, 0.5, -0.1, 0.8, 0.0, 0.8, -0.5, 0.4, -0.2, 0.3, -0.5, 0.1, 0.4, 0.3, 0.1, 0.2, 0.0, 0.6, 0.5, 0.8, 1.7, 0.6, 0.5, -0.5, -0.5, -0.3, 0.6];
const vilG_out = [[2008.9, -1.34], [2008.9, -0.85], [2010.48, -1.1], [2011.28, 0.86], [2012.38, 0.86], [2012.89, 0.86], [2013.14, -0.56], [2016.41, 1.45], [2016.37, 1.08]];

const stations = ["Alert", "Zeppelin", "Stórhöfði", "Pallas", "Andøya", "Villum Research Station"];
const halfLifeA = ["4.6", "5.3", "6.0", "7.4", "8.3", "8.9"];
const halfLifeG = ["4.4", "4.4", "7.3", "5.4", "10", "-28"];

// ---- helpers ----
const seq = (start: number, step: number, vals: number[]) => vals.map((y, i) => ({ x: +(start + i * step).toFixed(4), y }));
const pts = (arr: number[][]) => arr.map(([x, y]) => ({ x, y }));

// ---- layout ----
const plotLeft = [57, 592];
const plotRight = [511, 1048];
const plotTop = [62, 189, 318, 447, 574, 703];
const plotBottom = [180, 309, 437, 566, 693, 822];
const YW = 50;
const FONT = "'Liberation Sans', Arial, sans-serif";

type Pt = { x: number; y: number };
type Panel = { col: number; row: number; domain: number[]; ticks: number[]; season: Pt[]; trend: Pt[]; meas: Pt[] };

const panels: Panel[] = [
  { col: 0, row: 0, domain: [-0.95, 5.75], ticks: [0, 2, 4], season: seq(1992, 0.25, alertA_season), trend: pts(alertA_trend), meas: [...seq(1992.125, 0.25, alertA_meas), ...seq(1992.06, 0.25, alertA_meas2), ...pts(alertA_out)] },
  { col: 0, row: 1, domain: [0, 6.2], ticks: [0, 2, 4, 6], season: seq(1993.25, 0.25, zeppA_season), trend: pts(zeppA_trend), meas: [...seq(1993.375, 0.25, zeppA_meas), ...seq(1993.31, 0.25, zeppA_meas2), ...pts(zeppA_out)] },
  { col: 0, row: 2, domain: [-1.2, 4.5], ticks: [0, 2, 4], season: seq(1995, 0.25, storA_season), trend: pts(storA_trend), meas: [...seq(1995.125, 0.25, storA_meas), ...seq(1995.06, 0.25, storA_meas2), ...pts(storA_out)] },
  { col: 0, row: 3, domain: [-0.5, 4.5], ticks: [0, 2, 4], season: seq(1996, 0.25, pallA_season), trend: pts(pallA_trend), meas: [...seq(1996.125, 0.25, pallA_meas), ...pts(pallA_out)] },
  { col: 0, row: 4, domain: [0.5, 2.5], ticks: [1, 2], season: seq(2010, 0.25, andA_season), trend: pts(andA_trend), meas: [...seq(2010, 0.125, andA_meas), ...pts(andA_out)] },
  { col: 0, row: 5, domain: [0.5, 3.5], ticks: [1, 2, 3], season: seq(2008, 0.25, vilA_season), trend: pts(vilA_trend), meas: [...seq(2008, 0.25, vilA_meas), ...pts(vilA_out)] },
  { col: 1, row: 0, domain: [-2.9, 4.4], ticks: [-2, 0, 2, 4], season: seq(1992, 0.25, alertG_season), trend: pts(alertG_trend), meas: [...seq(1992.125, 0.25, alertG_meas), ...seq(1992.06, 0.25, alertG_meas2), ...pts(alertG_out)] },
  { col: 1, row: 1, domain: [-2, 4.55], ticks: [-2, 0, 2, 4], season: seq(1993.25, 0.25, zeppG_season), trend: pts(zeppG_trend), meas: [...seq(1993.375, 0.25, zeppG_meas), ...seq(1993.31, 0.25, zeppG_meas2), ...pts(zeppG_out)] },
  { col: 1, row: 2, domain: [-0.8, 4.5], ticks: [0, 2, 4], season: seq(1995, 0.25, storG_season), trend: pts(storG_trend), meas: [...seq(1995.125, 0.25, storG_meas), ...seq(1995.06, 0.25, storG_meas2), ...pts(storG_out)] },
  { col: 1, row: 3, domain: [-2, 4.5], ticks: [-2, 0, 2, 4], season: seq(1996, 0.25, pallG_season), trend: pts(pallG_trend), meas: [...seq(1996.125, 0.25, pallG_meas), ...pts(pallG_out)] },
  { col: 1, row: 4, domain: [-1.5, 1.8], ticks: [-1, 0, 1], season: seq(2010, 0.25, andG_season), trend: pts(andG_trend), meas: [...seq(2010, 0.125, andG_meas), ...pts(andG_out)] },
  { col: 1, row: 5, domain: [-1.5, 2], ticks: [-1, 0, 1, 2], season: seq(2008, 0.25, vilG_season), trend: pts(vilG_trend), meas: [...seq(2008, 0.25, vilG_meas), ...pts(vilG_out)] },
];

const Cross = (p: any) => {
  const { cx, cy } = p;
  if (cx == null || cy == null) return <g />;
  const s = 2.7;
  return (
    <path
      d={`M${cx - s},${cy - s}L${cx + s},${cy + s}M${cx - s},${cy + s}L${cx + s},${cy - s}`}
      stroke="#5858ff"
      strokeWidth={1.1}
      strokeOpacity={0.75}
      fill="none"
    />
  );
};

const YearTick = (p: any) => {
  const { x, y, payload } = p;
  return (
    <text transform={`translate(${x},${y + 2}) rotate(-90)`} textAnchor="end" dy="0.35em" fontSize={15} fill="#222" fontFamily={FONT}>
      {payload.value}
    </text>
  );
};

function PanelChart({ p }: { p: Panel }) {
  const bottomRow = p.row === 5;
  const XH = bottomRow ? 45 : 6;
  const left = plotLeft[p.col] - YW;
  const w = plotRight[p.col] - plotLeft[p.col] + YW + 5;
  const h = plotBottom[p.row] - plotTop[p.row] + 5 + XH;
  return (
    <div style={{ position: "absolute", left, top: plotTop[p.row] - 5 }}>
      <ComposedChart width={w} height={h} margin={{ top: 5, right: 5, bottom: 0, left: 0 }}>
        <XAxis
          type="number"
          dataKey="x"
          domain={[1992, 2018]}
          allowDataOverflow
          ticks={bottomRow ? labelYears : oddYears}
          height={XH}
          axisLine={false}
          tickLine={{ stroke: "#444" }}
          tickSize={3}
          tick={bottomRow ? <YearTick /> : false}
          interval={0}
        />
        <YAxis
          type="number"
          dataKey="y"
          domain={p.domain}
          allowDataOverflow
          ticks={p.ticks}
          width={YW}
          axisLine={false}
          tickLine={{ stroke: "#444" }}
          tickSize={4}
          tickMargin={2}
          interval={0}
          tick={{ fontSize: 15, fill: "#222", fontFamily: FONT }}
        />
        {gridYears.map((yr) => (
          <ReferenceLine
            key={yr}
            x={yr}
            stroke={yr % 2 === 0 ? "#cdcdcd" : "#d2d2d2"}
            strokeWidth={yr % 2 === 0 ? 1.5 : 1}
            strokeDasharray={yr % 2 === 0 ? undefined : "1 2"}
          />
        ))}
        <Scatter data={p.meas} dataKey="y" shape={Cross} isAnimationActive={false} />
        <Line data={p.season} dataKey="y" type="monotone" stroke="#111" strokeWidth={1.1} dot={false} isAnimationActive={false} />
        <Line data={p.trend} dataKey="y" type="monotone" stroke="#ff00ff" strokeWidth={1.3} dot={false} isAnimationActive={false} />
      </ComposedChart>
    </div>
  );
}

export default function App() {
  return (
    <div style={{ position: "absolute", left: 0, top: 0, width: 1067, height: 920, background: "#fff", fontFamily: FONT, overflow: "hidden" }}>
      <style>{`.recharts-surface{overflow:visible}`}</style>
      {panels.map((p, i) => (
        <PanelChart key={i} p={p} />
      ))}
      <svg width={1067} height={920} style={{ position: "absolute", left: 0, top: 0, pointerEvents: "none" }} fontFamily={FONT}>
        {panels.map((p, i) => (
          <rect
            key={"f" + i}
            x={plotLeft[p.col]}
            y={plotTop[p.row]}
            width={plotRight[p.col] - plotLeft[p.col]}
            height={plotBottom[p.row] - plotTop[p.row]}
            fill="none"
            stroke="#3a3a3a"
            strokeWidth={1.5}
          />
        ))}
        <text x={300} y={47} textAnchor="middle" fontSize={40} fontWeight="bold" textLength={157} lengthAdjust="spacingAndGlyphs" fill="#000">(a) α-HCH</text>
        <text x={812} y={47} textAnchor="middle" fontSize={40} fontWeight="bold" textLength={155} lengthAdjust="spacingAndGlyphs" fill="#000">(b) γ-HCH</text>
        {[0, 1].map((c) =>
          stations.map((s, r) => {
            const lower = r >= 4;
            const x = lower ? plotLeft[c] + 16 : plotLeft[c] + 364;
            const y = plotTop[r] + (r === 4 ? 33 : 26);
            return (
              <text key={c + s} x={x} y={y} fontSize={19} fill="#111">{s}</text>
            );
          })
        )}
        {[0, 1].map((c) =>
          (c === 0 ? halfLifeA : halfLifeG).map((v, r) => (
            <text key={"t" + c + r} x={plotLeft[c] + 17} y={plotBottom[r] - 9} fontSize={18} fill="#111">
              <tspan fontStyle="italic">t</tspan>
              <tspan fontSize={12} dy={4}>1/2</tspan>
              <tspan dy={-4}>{` = ${v} y`}</tspan>
            </text>
          ))
        )}
        <text transform="translate(27,455) rotate(-90)" textAnchor="middle" fontSize={19} fill="#111">
          ln (<tspan fontStyle="italic">C</tspan> / pg m<tspan fontSize={13} dy={-7}>-3</tspan><tspan dy={7}>)</tspan>
        </text>
        <line x1={200} x2={282} y1={909} y2={909} stroke="#000" strokeWidth={3} />
        <text x={296} y={916} fontSize={23} fill="#111">Seasonal cycle</text>
        <line x1={520} x2={605} y1={909} y2={909} stroke="#ff00ff" strokeWidth={3} />
        <text x={620} y={916} fontSize={23} fill="#111">Trend</text>
        <path d="M792,905L802,915M792,915L802,905" stroke="#2a62ff" strokeWidth={1.8} />
        <text x={842} y={916} fontSize={23} fill="#111">Measured</text>
      </svg>
    </div>
  );
}
